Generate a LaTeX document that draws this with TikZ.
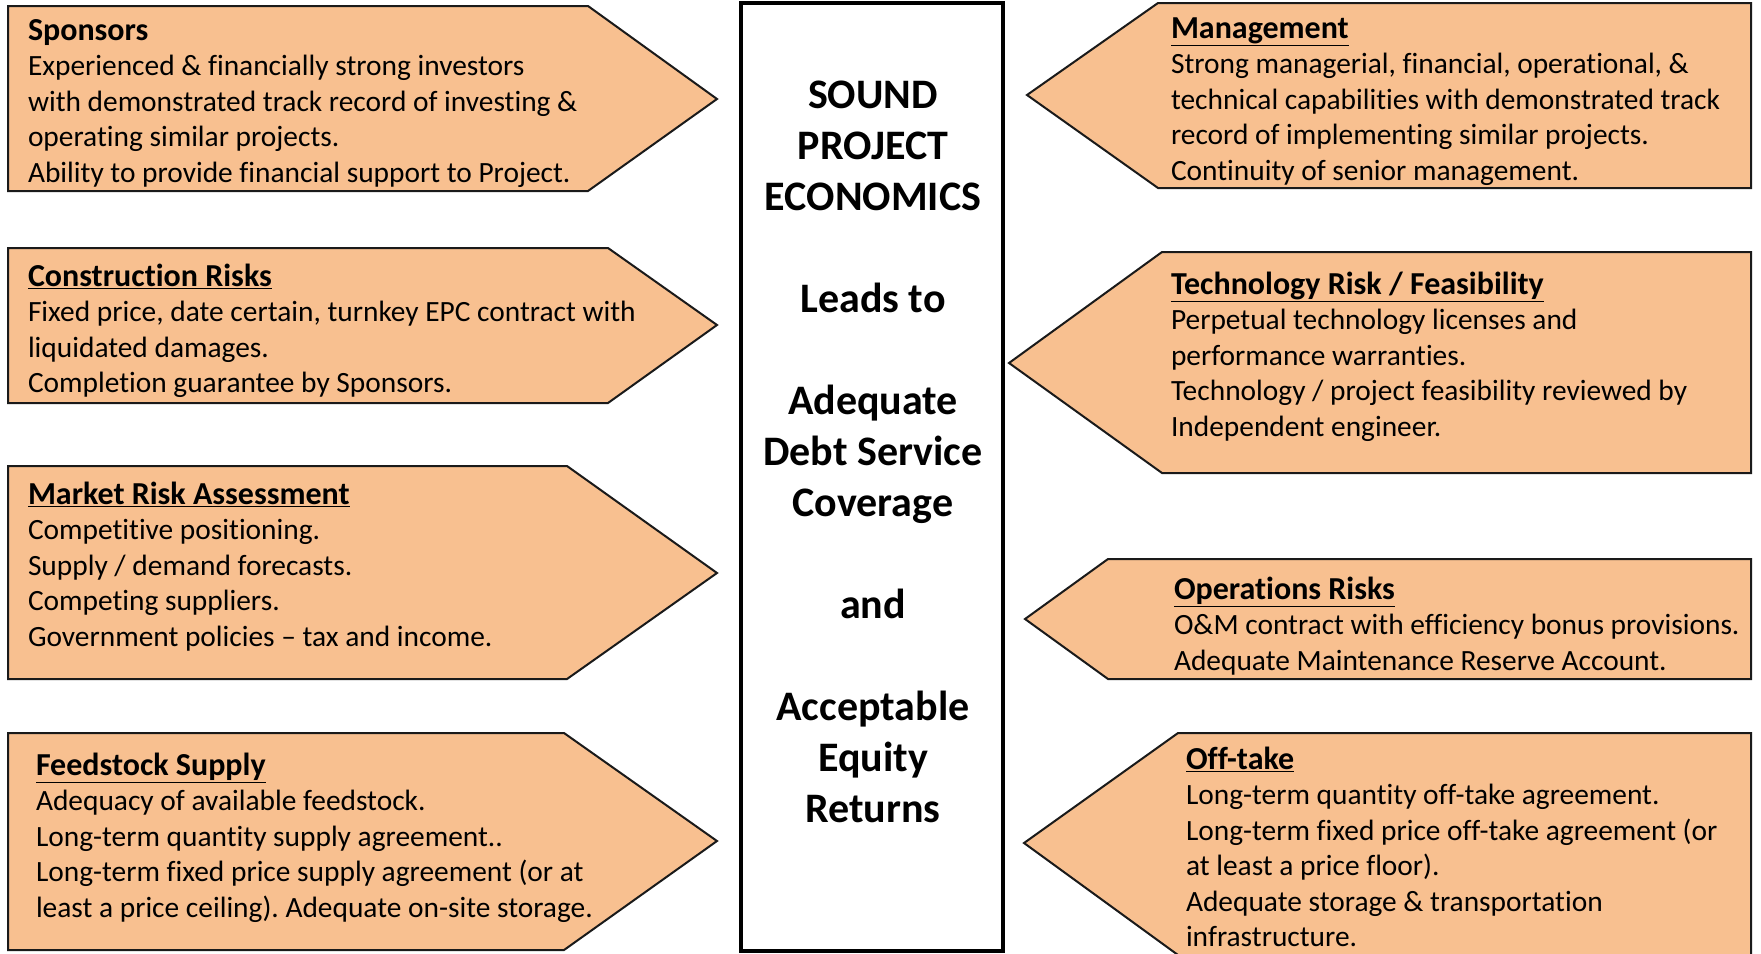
\documentclass[tikz,border=0pt]{standalone}
\usepackage{fontspec}
\setmainfont[Ligatures=NoCommon]{Carlito}
\definecolor{peach}{HTML}{F8C090}
\definecolor{edge}{HTML}{1A1A1A}
\tikzset{
  panel/.style={draw=edge, line width=2pt, fill=peach, line join=miter},
  txt/.style={anchor=north west, inner sep=0pt, outer sep=0pt, align=left,
    font=\fontsize{29.4}{35.5}\selectfont\frenchspacing},
  core/.style={draw=black, line width=4pt, fill=white},
  coretxt/.style={anchor=north, inner sep=0pt, align=center,
    font=\fontsize{42}{51}\selectfont\bfseries}
}
\newcommand{\hdg}[1]{{\fontsize{32}{35.5}\selectfont\textbf{\underline{#1}}}}
\newcommand{\hdgplain}[1]{{\fontsize{32}{35.5}\selectfont\textbf{#1}}}
\begin{document}
\begin{tikzpicture}[x=1pt,y=-1pt]
\useasboundingbox (0,0) rectangle (1761,953);
\fill[white] (0,0) rectangle (1761,953);
% left panels
\draw[panel] (8,6) -- (588,6) -- (717,99) -- (588,191) -- (8,191) -- cycle;
\draw[panel] (8,248) -- (608,248) -- (717,325) -- (608,403) -- (8,403) -- cycle;
\draw[panel] (8,466) -- (567,466) -- (717,573) -- (567,679) -- (8,679) -- cycle;
\draw[panel] (8,733) -- (564,733) -- (717,841) -- (564,950) -- (8,950) -- cycle;
% right panels
\draw[panel] (1027,95) -- (1158,3) -- (1751,3) -- (1751,188) -- (1158,188) -- cycle;
\draw[panel] (1009,363) -- (1162,252) -- (1751,252) -- (1751,473) -- (1162,473) -- cycle;
\draw[panel] (1025,619) -- (1108,559) -- (1751,559) -- (1751,679) -- (1108,679) -- cycle;
\draw[panel] (1024,843) -- (1178,733) -- (1751,733) -- (1751,955) -- (1178,955) -- cycle;
% centre box
\draw[core] (741,3) rectangle (1003,951);
\node[coretxt] (coretext) at (873,73) {\strut SOUND\\PROJECT\\ECONOMICS\\ \\Leads to\\ \\Adequate\\Debt Service\\Coverage\\ \\and\\ \\Acceptable\\Equity\\Returns};
% texts
\node[txt] (sponsors) at (28,15.5) {\strut\hdgplain{Sponsors}\\Experienced \& financially strong investors\\with demonstrated track record of investing \&\\operating similar projects.\\Ability to provide financial support to Project.};
\node[txt] (construction) at (28,261.5) {\strut\hdg{Construction Risks}\\Fixed price, date certain, turnkey EPC contract with\\liquidated damages.\\Completion guarantee by Sponsors.};
\node[txt] (market) at (28,479.5) {\strut\hdg{Market Risk Assessment}\\Competitive positioning.\\Supply / demand forecasts.\\Competing suppliers.\\Government policies -- tax and income.};
\node[txt] (feedstock) at (36,750.5) {\strut\hdg{Feedstock Supply}\\Adequacy of available feedstock.\\Long-term quantity supply agreement..\\Long-term fixed price supply agreement (or at\\least a price ceiling). Adequate on-site storage.};
\node[txt] (management) at (1171,13.5) {\strut\hdg{Management}\\Strong managerial, financial, operational, \&\\technical capabilities with demonstrated track\\record of implementing similar projects.\\Continuity of senior management.};
\node[txt] (technology) at (1171,269.5) {\strut\hdg{Technology Risk / Feasibility}\\Perpetual technology licenses and\\performance warranties.\\Technology / project feasibility reviewed by\\Independent engineer.};
\node[txt] (operations) at (1174,574.5) {\strut\hdg{Operations Risks}\\O\&M contract with efficiency bonus provisions.\\Adequate Maintenance Reserve Account.};
\node[txt] (offtake) at (1186,744.5) {\strut\hdg{Off-take}\\Long-term quantity off-take agreement.\\Long-term fixed price off-take agreement (or\\at least a price floor).\\Adequate storage \& transportation\\infrastructure.};
\end{tikzpicture}
\end{document}
